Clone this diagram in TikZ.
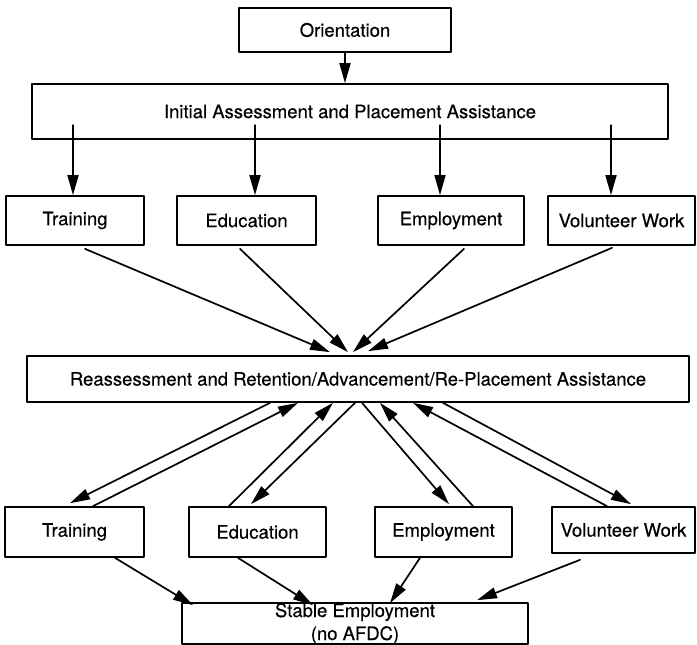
\documentclass[tikz,border=0pt]{standalone}
\usepackage{fontspec}
\setmainfont{TeX Gyre Heros}[FakeBold=0.4]
\usetikzlibrary{arrows.meta}

\begin{document}
\begin{tikzpicture}[x=1pt, y=-1pt, line width=1.7pt, line cap=round, line join=round,
    box/.style={draw, inner sep=0pt, font=\fontsize{18.5}{26}\selectfont},
    arr/.style={-{Triangle[length=20pt,width=11pt]}},
    rarr/.style={{Triangle[length=20pt,width=11pt]}-}]

  %% ════ 上半：入口 + 初评 ════
  \node[box, minimum width=212pt, minimum height=44pt] (ori)  at (345,30)    {Orientation};
  \node[box, minimum width=636pt, minimum height=55pt] (init) at (350,111.5) {Initial Assessment and Placement Assistance};

  %% ════ 第一排四个去向 ════
  \node[box, minimum width=138pt, minimum height=49pt] (t1) at (75,220.5)    {Training};
  \node[box, minimum width=139pt, minimum height=49pt] (e1) at (246.5,220.5) {Education};
  \node[box, minimum width=146pt, minimum height=49pt] (m1) at (451,220.5)   {Employment};
  \node[box, minimum width=147pt, minimum height=49pt] (v1) at (621.5,220.5) {Volunteer Work};

  %% ════ 复评 ════
  \node[box, minimum width=662pt, minimum height=46pt] (re) at (358,379)
    {Reassessment and Retention/Advancement/Re-Placement Assistance};

  %% ════ 第二排 + 终点 ════
  \node[box, minimum width=139pt, minimum height=50pt] (t2) at (74.5,532)  {Training};
  \node[box, minimum width=137pt, minimum height=50pt] (e2) at (257.5,532) {Education};
  \node[box, minimum width=137pt, minimum height=50pt] (m2) at (443.5,532) {Employment};
  \node[box, minimum width=143pt, minimum height=46pt] (v2) at (623.5,530) {Volunteer Work};
  % 两行字：text height 从末行基线量起
  \node[box, minimum width=346pt, minimum height=41pt, align=center, text height=37pt, text depth=4pt,
        font=\fontsize{18.5}{23}\selectfont] (st) at (355,623.5)
    {Stable Employment\\(no AFDC)};

  %% ════ 箭头 ════
  \draw[arr] (ori.south) -- (ori.south |- init.north);
  % 竖箭头从框内起笔
  \foreach \n/\dx in {t1/-2, e1/8.5, m1/-11, v1/-10.5}
    \draw[rarr] ([xshift=\dx pt]\n.north) -- ++(0,-70);

  % 汇入复评
  \draw[arr] ([xshift=10pt,yshift=-3pt]t1.south)   -- ([xshift=-28pt,yshift=3pt]re.north);
  \draw[arr] ([xshift=-6.5pt,yshift=-3pt]e1.south) -- ([xshift=-10pt,yshift=3pt]re.north);
  \draw[arr] ([xshift=13pt,yshift=-3pt]m1.south)   -- ([xshift=-5pt,yshift=3pt]re.north);
  \draw[arr] ([xshift=-9.5pt,yshift=-2pt]v1.south) -- ([xshift=10pt,yshift=4pt]re.north);

  % 复评 <-> 第二排（成对往返）
  \draw[arr]  ([xshift=-88pt]re.south) -- ([xshift=-4.5pt,yshift=3pt]t2.north);
  \draw[rarr] ([xshift=-60pt]re.south) -- ([xshift=18.5pt]t2.north);
  \draw[rarr] ([xshift=-25pt]re.south) -- ([xshift=-28.5pt]e2.north);
  \draw[arr]  ([xshift=-3pt]re.south)  -- ([xshift=-6.5pt,yshift=2pt]e2.north);
  \draw[arr]  ([xshift=4pt]re.south)   -- ([xshift=5.5pt,yshift=2pt]m2.north);
  \draw[rarr] ([xshift=22pt]re.south)  -- ([xshift=29.5pt]m2.north);
  \draw[rarr] ([xshift=55pt]re.south)  -- ([xshift=-16.5pt]v2.north);
  \draw[arr]  ([xshift=85pt]re.south)  -- ([xshift=7.5pt,yshift=2pt]v2.north);

  % 落到稳定就业
  \draw[arr] ([xshift=40.5pt]t2.south)              -- ([xshift=-162pt,yshift=-3pt]st.north);
  \draw[arr] ([xshift=-19.5pt]e2.south)             -- ([xshift=-42pt,yshift=-3pt]st.north);
  \draw[arr] ([xshift=-23.5pt]m2.south)             -- ([xshift=35pt,yshift=-1pt]st.north);
  \draw[arr] ([xshift=-43.5pt,yshift=-6pt]v2.south) -- ([xshift=122pt,yshift=2pt]st.north);

  % 钉死画布
  \pgfresetboundingbox
  \path[use as bounding box] (0,0) rectangle (697,645);
\end{tikzpicture}
\end{document}
